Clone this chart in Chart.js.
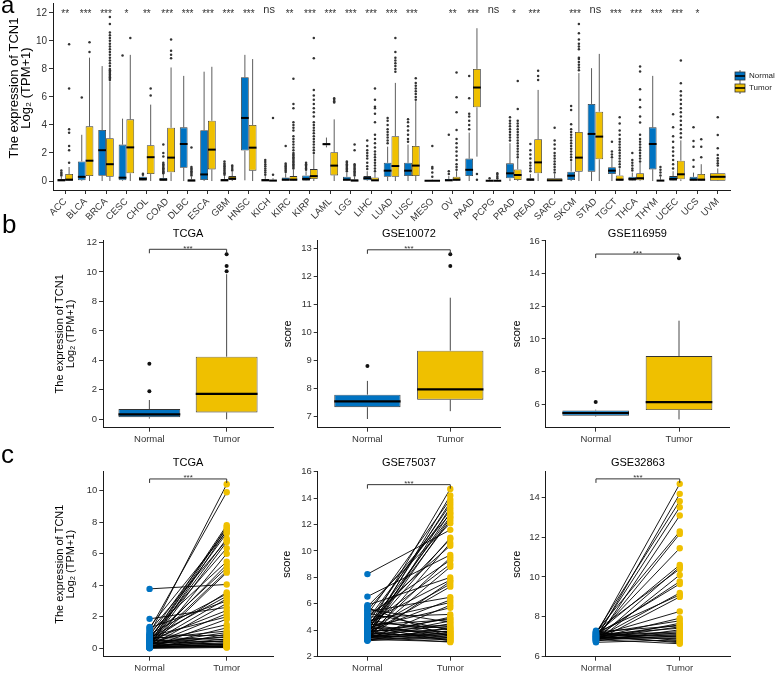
<!DOCTYPE html>
<html><head><meta charset="utf-8">
<script src="https://cdn.jsdelivr.net/npm/chart.js@4/dist/chart.umd.min.js"></script>
<style>html,body{margin:0;padding:0;background:#fff;}body{position:relative;width:777px;height:673px;overflow:hidden;}</style>
</head><body>
<script>
// ================= DATA =================
const cancers = ['ACC','BLCA','BRCA','CESC','CHOL','COAD','DLBC','ESCA','GBM','HNSC','KICH','KIRC','KIRP','LAML','LGG','LIHC','LUAD','LUSC','MESO','OV','PAAD','PCPG','PRAD','READ','SARC','SKCM','STAD','TGCT','THCA','THYM','UCEC','UCS','UVM'];
const sigA = ['**','***','***','*','**','***','***','***','***','***','ns','**','***','***','***','***','***','***','','**','***','ns','*','***','','***','ns','***','***','***','***','*',''];
// [lower whisker, Q1, median, Q3, upper whisker]
const normalBoxA = [
 [0,0,0.05,0.15,0.3],[0,0.05,0.3,1.4,3.3],[0,0.38,2.2,3.64,8.2],[0,0.05,0.24,2.6,4.45],[0,0.02,0.15,0.3,0.35],
 [0,0.02,0.1,0.22,0.5],[0,0.95,2.64,3.83,7.5],[0,0.07,0.47,3.62,7.8],[0,0,0.05,0.15,0.35],[0.05,2.17,4.5,7.4,9.0],
 [0,0,0.05,0.15,0.35],[0,0.02,0.1,0.25,0.55],[0,0.02,0.15,0.4,0.7],[2.4,2.55,2.63,2.7,3.1],[0,0.02,0.1,0.3,0.6],
 [0,0.05,0.2,0.35,0.7],[0,0.3,0.74,1.3,2.45],[0,0.36,0.74,1.3,2.6],null,[0,0.02,0.05,0.15,0.35],
 [0,0.36,0.8,1.6,3.45],[0,0,0.02,0.05,0.1],[0,0.19,0.55,1.26,2.7],[0,0.02,0.1,0.2,0.5],null,
 [0,0.07,0.38,0.67,1.4],[0,0.67,3.36,5.5,8.05],[0,0.5,0.74,0.98,1.6],[0,0.02,0.15,0.3,0.6],[0,0.83,2.64,3.83,7.5],
 [0,0.02,0.15,0.35,0.7],[0,0.02,0.1,0.3,0.6],null];
const tumorBoxA = [
 [0,0.02,0.1,0.5,1.0],[0,0.36,1.45,3.9,8.8],[0,0.31,1.2,3.05,7.1],[0,0.55,2.4,4.4,9.0],[0,0.5,1.7,2.55,5.45],
 [0,0.62,1.67,3.8,8.1],[0,0,0.03,0.12,0.3],[0,0.83,2.24,4.3,8.15],[0,0.08,0.18,0.35,0.65],[0,0.74,2.38,4.0,8.7],
 [0,0,0.03,0.1,0.2],[0,0.02,0.1,0.35,0.8],[0,0.15,0.35,0.85,1.9],[0,0.4,1.1,2.05,4.4],[0,0,0.03,0.12,0.3],
 [0,0,0.05,0.25,0.6],[0,0.31,1.07,3.2,7.0],[0,0.36,1.1,2.5,5.7],[0,0,0.02,0.05,0.1],[0,0.02,0.1,0.3,0.7],
 [1.74,5.26,6.67,8.0,10.9],[0,0,0.02,0.06,0.12],[0,0.07,0.43,0.83,1.6],[0,0.55,1.33,2.98,6.5],[0,0,0.05,0.2,0.5],
 [0,0.67,1.67,3.5,7.7],[0,1.55,3.17,4.95,9.07],[0,0.02,0.1,0.4,0.9],[0,0.05,0.2,0.55,1.3],[0,0,0.03,0.1,0.3],
 [0,0.12,0.48,1.45,2.9],[0,0.02,0.1,0.5,1.2],[0,0.02,0.3,0.55,0.9]];
const normalOutA = [
 [0.4,0.5,0.6,0.75],[5.95],[],[8.95],[0.45,0.52],
 [0.55,0.62,0.7,0.78,0.85,0.92,1.0,1.1,1.2,1.3,1.75,2.0,2.6],[],[],[0.45,0.55,0.65,0.75,0.85,0.95,1.05,1.15,1.25,1.4],[],
 [0.45,0.6,0.75,0.9,1.05,1.2,1.35,1.5],[0.65,0.75,0.85,0.95,1.05,1.15,1.25,2.5],[0.8,0.9,1.0,1.1,1.2,1.3],[],[0.7,0.8,0.9,1.0,1.1,1.2,1.3,1.4],
 [0.85,1.05,1.3,1.6,1.8,2.0,2.2,2.5,2.9],[2.7,2.9,3.1,3.3,3.5,3.7,4.0,4.3,4.5],[2.8,3.0,3.3,3.6,3.9,4.2,4.4],[],[0.5,0.7,3.3],
 [3.7,4.0,4.3,4.6,4.8,5.9,7.5],[0.2],[2.9,3.1,3.3,3.5,3.7,3.9,4.1,4.3,4.55],[0.7,0.9,1.1,1.3,1.6,1.9,2.2,2.64],[],
 [1.5,1.7,1.9,2.1,2.3,2.5,2.7,2.9,3.1,3.3,3.5,3.7,4.05,5.07,5.36],[],[1.7,1.9,2.1,2.8],[0.75,0.9,1.1,1.3,1.5,2.0],[],
 [0.9,1.2,1.5,1.8,2.1,2.4,2.8,3.2,3.83,4.76],[1.02,1.5,2.45,2.86,3.83],[]];
const tumorOutA = [
 [1.3,2.2,2.5,3.45,3.7,6.6,9.75],[9.2,9.9],[7.2,7.3,7.4,7.5,7.6,7.7,7.8,7.9,8.0,8.2,8.4,8.6,8.8,9.0,9.2,9.4,9.6,9.8,10.0,10.2,10.4,10.6,11.2,11.7],[10.2],[6.1,6.6],
 [8.76,9.0,9.3,10.1],[0.4,0.5,0.6,0.7,0.8,0.9,1.0,2.4],[],[0.75,0.85,1.0,1.1],[],
 [0.45,4.5],[0.9,1.0,1.1,1.2,1.3,1.4,1.5,1.6,1.7,1.8,1.9,2.0,2.2,2.4,2.6,2.8,3.0,3.2,3.6,3.8,4.0,4.2,5.2,5.5,7.3],
 [2.0,2.2,2.4,2.6,2.8,3.0,3.2,3.4,3.6,3.8,4.0,4.2,4.6,4.9,5.2,5.5,5.8,6.1,6.5,8.76,10.2],[5.6,5.7,5.8,5.9],[0.4,0.5,0.6,0.7,0.8,0.9,1.0,1.1,1.2,2.2,2.6],
 [0.7,0.9,1.1,1.3,1.5,1.7,1.9,2.1,2.4,2.7,3.0,3.3,4.2,4.8,5.2,5.3,5.8,6.6],[7.8,8.0,8.2,8.4,8.6,8.8,9.2,10.2],[5.8,6.0,6.2,6.4,6.6,6.8,7.0,7.33],[0.3,0.6,0.9,1.0,2.5],
 [0.8,1.0,1.2,1.5,1.8,2.1,2.4,2.7,3.0,3.64,4.9,5.98,7.74],[0.1,0.5],[0.2,0.3,0.45,0.55],
 [1.7,1.9,2.1,2.3,2.5,2.7,2.9,3.1,3.3,3.5,3.7,3.9,4.1,4.3,5.14,7.14],[7.2,7.5,7.86],[0.6,0.8,1.0,1.2,1.4,1.6,1.8,2.0,2.3,2.6,2.9,3.8],
 [7.9,8.1,8.3,8.5,8.7,8.8,9.4,9.6,9.8,10.1,10.55,11.2],[],[1.0,1.2,1.4,1.6,1.8,2.0,2.2,2.4,2.6,2.8,3.0,3.3,3.6,4.1,4.55],
 [1.4,1.6,1.8,2.0,2.2,2.4,2.6,2.8,3.0,3.3,4.17,4.6,5.26,5.79,6.55,7.81,8.17],[0.4,0.6,0.8,1.0],
 [3.1,3.4,3.7,4.0,4.3,4.6,4.9,5.2,5.5,5.8,6.1,6.4,6.98,8.6],[1.7,2.45,2.98],[1.1,1.26,1.45,1.62,1.86,2.33,3.29,4.55]];
const yTicksA = [0,2,4,6,8,10,12];

const groups = ['Normal','Tumor'];
const tcgaBoxB = [[0.05,0.14,0.34,0.7,1.31],[0.0,0.47,1.72,4.25,9.85]];
const tcgaOutB = [[1.9,3.77],[10.05,10.4,11.2]];
const gse10072Box = [[6.91,7.33,7.54,7.78,8.27],[7.19,7.6,7.97,9.35,11.24]];
const gse10072Out = [[8.8],[12.37,12.79]];
const gse116959Box = [[5.25,5.3,5.47,5.63,5.67],[5.08,5.65,6.14,8.96,11.12]];
const gse116959Out = [[6.14],[14.94]];
const yTicksB1 = [0,2,4,6,8,10,12];
const yTicksB2 = [7,8,9,10,11,12,13];
const yTicksB3 = [6,8,10,12,14,16];

const tcgaNormalC = [0.9,1.2,0.5,0.3,0.8,0.15,1.35,0.6,0.4,1.1,0.2,0.7,0.05,1.0,0.35,0.55,0.25,0.1,3.77,0.45,0.9,0.65,0.3,1.3,0.15,1.87,0.5,0.2,0.75,0.05,0.4,0.1,0.6,0.3,0.02,0.85,0.25,0.45,0.12,0.7,0.08,0.35,0.55,0.18,0.04,0.28,0.5,0.1,0.22,0.03,0.15,0.06,0.32,0.0];
const tcgaTumorC = [10.4,9.9,7.8,7.7,7.6,7.5,7.4,7.3,6.95,6.85,6.75,6.35,6.0,5.5,5.3,5.1,4.9,4.8,4.05,3.55,3.45,3.3,3.15,3.0,2.85,2.6,2.4,2.2,2.0,1.85,1.5,1.3,1.1,1.0,0.9,0.8,0.75,0.7,0.6,0.55,0.5,0.45,0.4,0.35,0.3,0.25,0.22,0.18,0.15,0.12,0.1,0.08,0.06,0.05];
const gse75037Normal = [4.1,3.6,5.2,3.9,4.5,3.4,4.8,3.7,5.5,4.2,3.5,4.0,5.8,8.25,3.8,4.4,3.3,4.9,6.55,3.6,5.1,4.3,3.5,5.9,4.6,3.4,4.0,3.7,5.4,3.9,4.7,3.3,4.2,5.0,3.6,3.8,4.4,3.5,5.6,3.4,4.1,3.9,3.25,4.6,3.7,5.3,3.5,4.0,3.3,4.8,3.6,3.45,4.3,3.2,3.75,5.7,3.55,4.5,3.35,3.9,3.65,4.25,3.3,3.5];
const gse75037Tumor = [14.7,14.2,13.9,13.7,13.5,13.3,13.1,12.9,12.8,12.6,12.5,12.3,12.1,11.6,11.0,10.9,10.6,10.4,9.7,9.5,9.3,9.0,8.8,8.0,7.8,7.7,7.5,7.3,6.5,6.3,6.1,5.9,5.7,5.2,5.0,4.9,4.8,4.7,4.6,4.5,4.4,4.3,4.2,4.15,4.1,4.0,3.95,3.9,3.85,3.8,3.75,3.7,3.65,3.6,3.55,3.5,3.45,3.4,3.35,3.3,3.25,3.2,3.15,3.1];
const gse32863Normal = [7.1,6.9,7.2,7.0,6.8,7.25,6.95,7.05,7.15,6.85,7.3,6.75,7.0,7.1,6.9,7.2,6.8,7.05,6.95,7.15,6.85,7.0,7.25,6.9,7.1,6.78,7.02,6.88,7.18,6.95,7.08,6.82,7.12,6.92,7.0,6.72,7.22,6.98,7.05,6.86];
const gse32863Tumor = [14.67,14.17,13.8,13.5,13.08,12.28,12.16,11.44,10.6,10.5,10.4,10.1,9.77,9.65,9.2,9.1,9.0,8.27,7.93,7.8,7.68,7.6,7.55,7.5,7.43,7.35,7.26,7.2,7.18,7.1,7.09,7.05,7.0,6.95,6.9,6.85,6.8,6.75,6.7,6.65];
const yTicksC1 = [0,2,4,6,8,10];
const yTicksC2 = [2,4,6,8,10,12,14,16];
const yTicksC3 = [6,8,10,12,14];

// ================= STYLE / HELPERS =================
const FONT = '"Liberation Sans", Arial, Helvetica, sans-serif';
const BLUE = '#0073C2', YELLOW = '#EFC000';
Chart.defaults.font.family = FONT;
Chart.defaults.animation = false;
const decoMap = new Map();

const decoPlugin = {
  id: 'deco',
  afterDatasetsDraw(chart) {
    const o = decoMap.get(chart.canvas); if (!o) return;
    const ctx = chart.ctx, ys = chart.scales.y;
    chart.data.datasets.forEach((ds, di) => {
      if (!ds.stats) return;
      const meta = chart.getDatasetMeta(di);
      meta.data.forEach((el, j) => {
        const s = ds.stats[j]; if (!s) return;
        const x = el.x, w = el.width;
        ctx.save();
        ctx.strokeStyle = '#333'; ctx.lineWidth = o.whiskerW || 0.8;
        ctx.beginPath();
        ctx.moveTo(x, ys.getPixelForValue(s[0])); ctx.lineTo(x, ys.getPixelForValue(s[1]));
        ctx.moveTo(x, ys.getPixelForValue(s[3])); ctx.lineTo(x, ys.getPixelForValue(s[4]));
        ctx.stroke();
        ctx.strokeStyle = '#000'; ctx.lineWidth = o.medianW || 2;
        const my = ys.getPixelForValue(s[2]);
        ctx.beginPath(); ctx.moveTo(x - w / 2, my); ctx.lineTo(x + w / 2, my); ctx.stroke();
        ctx.fillStyle = o.outColor || '#333';
        (ds.outliers[j] || []).forEach(v => {
          ctx.beginPath(); ctx.arc(x, ys.getPixelForValue(v), o.outR || 1.3, 0, Math.PI * 2); ctx.fill();
        });
        ctx.restore();
      });
    });
  },
  afterDraw(chart) {
    const o = decoMap.get(chart.canvas); if (!o) return;
    const ctx = chart.ctx, xs = chart.scales.x, ys = chart.scales.y;
    const ox = o.ox, oy = o.oy;
    ctx.save();
    (o.texts || []).forEach(t => {
      ctx.font = `${t.size}px ${FONT}`;
      ctx.fillStyle = t.color || '#000';
      ctx.textAlign = t.align || 'center';
      ctx.textBaseline = t.base || 'middle';
      if (t.rot) {
        ctx.save(); ctx.translate(t.x - ox, t.y - oy); ctx.rotate(-Math.PI / 2);
        ctx.fillText(t.t, 0, 0); ctx.restore();
      } else ctx.fillText(t.t, t.x - ox, t.y - oy);
    });
    if (o.sig) {
      ctx.fillStyle = '#333'; ctx.textAlign = 'center'; ctx.textBaseline = 'alphabetic';
      o.sig.forEach((lab, i) => {
        if (!lab) return;
        const x = xs.getPixelForValue(i + 1);
        if (lab === 'ns') { ctx.font = `11px ${FONT}`; ctx.fillText(lab, x, 13 - oy); }
        else { ctx.font = `10px ${FONT}`; ctx.fillText(lab, x, 17 - oy); }
      });
    }
    if (o.bracket) {
      const x1 = xs.getPixelForValue(1), x2 = xs.getPixelForValue(2), y = ys.getPixelForValue(o.bracket);
      ctx.strokeStyle = '#333'; ctx.lineWidth = 1;
      ctx.beginPath(); ctx.moveTo(x1, y + 4); ctx.lineTo(x1, y); ctx.lineTo(x2, y); ctx.lineTo(x2, y + 4); ctx.stroke();
      ctx.font = `8px ${FONT}`; ctx.fillStyle = '#333'; ctx.textAlign = 'center'; ctx.textBaseline = 'alphabetic';
      ctx.fillText('***', (x1 + x2) / 2, y + 1.5);
    }
    if (o.legend) {
      o.legend.forEach(it => {
        const x = 735 - ox, y = it.y - oy, w = 10, h = 8;
        ctx.strokeStyle = '#333'; ctx.lineWidth = 0.8;
        ctx.beginPath(); ctx.moveTo(x + w / 2, y - h / 2 - 2); ctx.lineTo(x + w / 2, y - h / 2);
        ctx.moveTo(x + w / 2, y + h / 2); ctx.lineTo(x + w / 2, y + h / 2 + 2); ctx.stroke();
        ctx.fillStyle = it.color; ctx.fillRect(x, y - h / 2, w, h); ctx.strokeRect(x, y - h / 2, w, h);
        ctx.strokeStyle = '#000'; ctx.lineWidth = 1.6;
        ctx.beginPath(); ctx.moveTo(x, y); ctx.lineTo(x + w, y); ctx.stroke();
        ctx.font = `8px ${FONT}`; ctx.fillStyle = '#222'; ctx.textAlign = 'left'; ctx.textBaseline = 'middle';
        ctx.fillText(it.label, 749 - ox, y);
      });
    }
    ctx.restore();
  }
};
Chart.register(decoPlugin);

function axis(min, max, tickVals, tickLabels, fontSize, size, isX, rot) {
  return {
    type: 'linear', min, max, offset: false,
    afterBuildTicks: s => { s.ticks = tickVals.map(v => ({ value: v })); },
    afterFit: s => {
      if (isX) s.height = size; else s.width = size;
      s.paddingLeft = 0; s.paddingRight = 0; s.paddingTop = 0; s.paddingBottom = 0;
    },
    ticks: { autoSkip: false, maxRotation: rot || 0, minRotation: rot || 0, padding: 2, color: '#333',
      font: { family: FONT, size: fontSize }, callback: (v, i) => tickLabels[i] },
    grid: { display: true, drawOnChartArea: false, drawTicks: true, tickLength: 4, tickWidth: 1, color: '#333', offset: false },
    border: { display: true, color: '#1a1a1a', width: 1 }
  };
}

function makeChart(g) {
  const c = document.createElement('canvas');
  c.width = g.cw; c.height = g.ch;
  c.style.cssText = `position:absolute;left:${g.cx}px;top:${g.cy}px;width:${g.cw}px;height:${g.ch}px;`;
  document.body.appendChild(c);
  decoMap.set(c, Object.assign({ ox: g.cx, oy: g.cy }, g.deco));
  const pad = { left: g.l - g.cx - g.aw, top: g.t - g.cy, right: g.cx + g.cw - g.r, bottom: g.cy + g.ch - g.b - g.ah };
  return new Chart(c, {
    type: g.type,
    data: { datasets: g.datasets },
    options: {
      responsive: false, animation: false, events: [],
      layout: { padding: pad },
      plugins: { legend: { display: false }, tooltip: { enabled: false } },
      scales: {
        x: axis(g.xMin, g.xMax, g.xTicks, g.xLabels, g.xFont, g.ah, true, g.rot),
        y: axis(g.yMin, g.yMax, g.yTicks, g.yTicks.map(String), g.yFont, g.aw, false, 0)
      }
    }
  });
}

// ================= PANEL A =================
makeChart({
  type: 'bar', cx: 0, cy: 0, cw: 777, ch: 240, l: 53, t: 3, r: 730, b: 190, aw: 45, ah: 45,
  xMin: 0.4, xMax: 33.6, xTicks: cancers.map((c, i) => i + 1), xLabels: cancers, xFont: 9.5, rot: 45,
  yMin: -0.64, yMax: 12.7, yTicks: yTicksA, yFont: 10,
  datasets: [
    { label: 'Normal', data: cancers.map((c, i) => ({ x: i + 1, y: normalBoxA[i] ? [normalBoxA[i][1], normalBoxA[i][3]] : null })),
      stats: normalBoxA, outliers: normalOutA, backgroundColor: BLUE, borderColor: '#333', borderWidth: 0.8,
      borderSkipped: false, skipNull: true, categoryPercentage: 0.76, barPercentage: 1 },
    { label: 'Tumor', data: cancers.map((c, i) => ({ x: i + 1, y: [tumorBoxA[i][1], tumorBoxA[i][3]] })),
      stats: tumorBoxA, outliers: tumorOutA, backgroundColor: YELLOW, borderColor: '#333', borderWidth: 0.8,
      borderSkipped: false, skipNull: true, categoryPercentage: 0.76, barPercentage: 1 }
  ],
  deco: {
    outR: 1.25, medianW: 2, whiskerW: 0.8, outColor: '#333',
    sig: sigA,
    legend: [{ label: 'Normal', color: BLUE, y: 76 }, { label: 'Tumor', color: YELLOW, y: 88 }],
    texts: [
      { t: 'a', x: 1, y: 13, size: 24, align: 'left', base: 'alphabetic' },
      { t: 'The expression of TCN1', x: 14, y: 88, size: 13, rot: true },
      { t: 'Log₂ (TPM+1)', x: 26, y: 88, size: 13, rot: true }
    ]
  }
});

// ================= PANEL B =================
function boxPanel(g, boxes, outs, bracket, title, ytitle) {
  g.type = 'bar'; g.xMin = 0.4; g.xMax = 2.6; g.xTicks = [1, 2]; g.xLabels = groups; g.xFont = 9.5; g.yFont = 9.5;
  g.datasets = [{ label: title, data: groups.map((n, i) => ({ x: i + 1, y: [boxes[i][1], boxes[i][3]] })),
    stats: boxes, outliers: outs, backgroundColor: [BLUE, YELLOW], borderColor: '#333', borderWidth: 0.9,
    borderSkipped: false, categoryPercentage: 1, barPercentage: 0.8 }];
  g.deco = Object.assign({ outR: 2, medianW: 2.2, whiskerW: 0.9, outColor: '#111', bracket }, g.deco || {});
  const cxTitle = (g.l + g.r) / 2;
  g.deco.texts = (g.deco.texts || []).concat([{ t: title, x: cxTitle, y: g.t - 6, size: 11 }]).concat(ytitle);
  return makeChart(g);
}
const midB = (240 + 427.7) / 2;
boxPanel({ cx: 0, cy: 200, cw: 285, ch: 248, l: 103, t: 240, r: 273, b: 427.7, aw: 30, ah: 18, yMin: -0.57, yMax: 12.17, yTicks: yTicksB1,
  deco: { texts: [{ t: 'b', x: 2, y: 233, size: 26, align: 'left', base: 'alphabetic' }] } },
  tcgaBoxB, tcgaOutB, 11.54, 'TCGA',
  [{ t: 'The expression of TCN1', x: 60, y: midB, size: 11, rot: true }, { t: 'Log₂ (TPM+1)', x: 71, y: midB, size: 11, rot: true }]);
boxPanel({ cx: 275, cy: 200, cw: 235, ch: 248, l: 317.7, t: 240, r: 500, b: 427.7, aw: 25, ah: 18, yMin: 6.6, yMax: 13.3, yTicks: yTicksB2 },
  gse10072Box, gse10072Out, 12.95, 'GSE10072', [{ t: 'score', x: 288, y: midB, size: 11, rot: true }]);
boxPanel({ cx: 505, cy: 200, cw: 272, ch: 248, l: 545.7, t: 240, r: 729, b: 427.7, aw: 25, ah: 18, yMin: 4.57, yMax: 16.06, yTicks: yTicksB3 },
  gse116959Box, gse116959Out, 15.2, 'GSE116959', [{ t: 'score', x: 517, y: midB, size: 11, rot: true }]);

// ================= PANEL C =================
function pairPanel(g, normals, tumors, bracket, title, ytitle) {
  g.type = 'line'; g.xMin = 0.4; g.xMax = 2.6; g.xTicks = [1, 2]; g.xLabels = groups; g.xFont = 9.5; g.yFont = 9.5;
  const lineData = [];
  normals.forEach((n, i) => { lineData.push({ x: 1, y: n }, { x: 2, y: tumors[i] }, { x: 2, y: null }); });
  g.datasets = [
    { type: 'line', label: 'pairs', data: lineData, borderColor: '#000', borderWidth: 0.9, pointRadius: 0, spanGaps: false, fill: false, order: 3 },
    { type: 'line', label: 'Normal', data: normals.map(v => ({ x: 1, y: v })), showLine: false, pointRadius: 3.2, pointBorderWidth: 0, pointBackgroundColor: BLUE, backgroundColor: BLUE, borderColor: BLUE, order: 1 },
    { type: 'line', label: 'Tumor', data: tumors.map(v => ({ x: 2, y: v })), showLine: false, pointRadius: 3.2, pointBorderWidth: 0, pointBackgroundColor: YELLOW, backgroundColor: YELLOW, borderColor: YELLOW, order: 1 }
  ];
  g.deco = Object.assign({ bracket }, g.deco || {});
  g.deco.texts = (g.deco.texts || []).concat([{ t: title, x: (g.l + g.r) / 2, y: 463, size: 11 }]).concat(ytitle);
  return makeChart(g);
}
const midC = (471.7 + 656.7) / 2;
pairPanel({ cx: 0, cy: 440, cw: 285, ch: 233, l: 103.3, t: 471.7, r: 273, b: 656.7, aw: 30, ah: 14, yMin: -0.53, yMax: 11.2, yTicks: yTicksC1,
  deco: { texts: [{ t: 'c', x: 1, y: 463, size: 26, align: 'left', base: 'alphabetic' }] } },
  tcgaNormalC, tcgaTumorC, 10.74, 'TCGA',
  [{ t: 'The expression of TCN1', x: 60, y: midC, size: 11, rot: true }, { t: 'Log₂ (TPM+1)', x: 71, y: midC, size: 11, rot: true }]);
pairPanel({ cx: 275, cy: 440, cw: 235, ch: 233, l: 317.7, t: 471.7, r: 500, b: 656.7, aw: 25, ah: 14, yMin: 2, yMax: 16, yTicks: yTicksC2 },
  gse75037Normal, gse75037Tumor, 15.02, 'GSE75037', [{ t: 'score', x: 287, y: midC, size: 11, rot: true }]);
pairPanel({ cx: 505, cy: 440, cw: 272, ch: 233, l: 545.7, t: 471.7, r: 730, b: 656.7, aw: 25, ah: 14, yMin: 6, yMax: 15.28, yTicks: yTicksC3 },
  gse32863Normal, gse32863Tumor, 14.92, 'GSE32863', [{ t: 'score', x: 517, y: midC, size: 11, rot: true }]);
</script>
</body></html>
